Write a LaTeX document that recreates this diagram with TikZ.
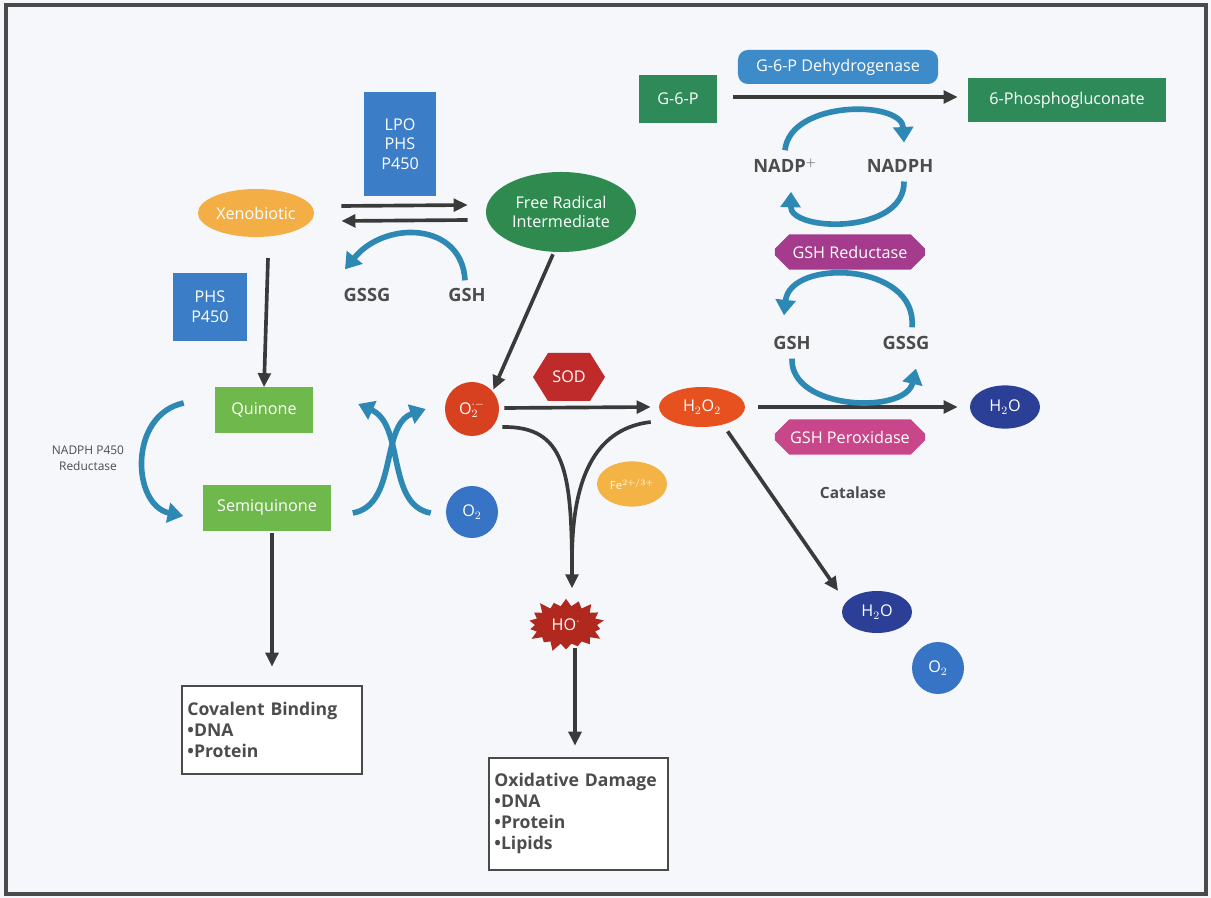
\documentclass[tikz,border=0pt]{standalone}
\usepackage{fontspec}
\setmainfont{Open Sans}
\usetikzlibrary{arrows.meta,positioning,calc,shapes.geometric,shapes.symbols,shapes.misc}
\definecolor{pagebg}{HTML}{F5F7FB}
\definecolor{framegray}{HTML}{4A4A4A}
\definecolor{labgray}{HTML}{4C4C4C}
\definecolor{arrowdark}{HTML}{3A3A3A}
\definecolor{tealarr}{HTML}{2E88B4}
\definecolor{enzblue}{HTML}{3B7DC6}
\definecolor{dehydblue}{HTML}{3D8BC9}
\definecolor{xenoorange}{HTML}{F3AF45}
\definecolor{radgreen}{HTML}{2F8A4F}
\definecolor{quingreen}{HTML}{6FB84B}
\definecolor{gsixgreen}{HTML}{2F8A5A}
\definecolor{supred}{HTML}{D8411F}
\definecolor{sodred}{HTML}{BF2A2A}
\definecolor{peroxred}{HTML}{E6511F}
\definecolor{feyellow}{HTML}{F4B445}
\definecolor{hored}{HTML}{B0281E}
\definecolor{oxblue}{HTML}{3774C6}
\definecolor{waternavy}{HTML}{2A3F95}
\definecolor{redpurple}{HTML}{A43B8C}
\definecolor{peroxpink}{HTML}{C7478A}

\begin{document}
\begin{tikzpicture}[x=0.025cm, y=-0.025cm,
  box/.style={text=white, align=center, font=\fontsize{11.5}{14}\selectfont, inner sep=2pt},
  blob/.style={box, ellipse, inner sep=1pt},
  cut/.style={box, chamfered rectangle, chamfered rectangle xsep=5pt, chamfered rectangle ysep=5pt},
  lbl/.style={text=labgray, font=\fontsize{13}{15}\selectfont\bfseries},
  res/.style={draw=framegray, line width=1.1pt, fill=white, align=left, text=labgray,
    font=\fontsize{12.5}{16}\selectfont\bfseries, inner sep=4pt, anchor=north west},
  dk/.style={draw=arrowdark, line width=2.6pt, -{Triangle[length=10pt,width=9pt]}},
  tl/.style={draw=tealarr, line width=4pt, -{Triangle[length=11pt,width=14pt]}}]
  % page and frame
  \fill[pagebg] (0,0) rectangle (1211,898);
  \draw[framegray, line width=2.4pt] (6,5) rectangle (1206,894);

  % xenobiotic activation
  \node[box, fill=enzblue, minimum width=1.8cm, minimum height=2.575cm] (lpo) at (400,144) {LPO\\PHS\\P450};
  \node[blob, fill=xenoorange, minimum width=2.8cm, minimum height=1.2cm] (xeno) at (256,213) {Xenobiotic};
  \node[blob, fill=radgreen, minimum width=3.75cm, minimum height=2cm] (frad) at (561,212) {Free Radical\\Intermediate};
  \node[lbl] (gssgA) at (367,295) {GSSG};
  \node[lbl] (gshA) at (467,295) {GSH};
  \node[box, fill=enzblue, minimum width=1.825cm, minimum height=1.675cm] (phs) at (210,307) {PHS\\P450};
  \draw[dk] ($(xeno.east)+(27,-7)$) -- ($(frad.west)+(-18,-7)$);
  \draw[dk] ($(frad.west)+(-18,8)$) -- ($(xeno.east)+(27,8)$);
  \draw[tl] ($(gshA.north)+(-2,-3)$) .. controls (462,222) and (385,220) .. ($(gssgA.north)+(-22,-14)$);

  % quinone redox cycling
  \node[box, fill=quingreen, minimum width=2.45cm, minimum height=1.125cm] (quin) at (264,410) {Quinone};
  \node[box, fill=quingreen, minimum width=3.175cm, minimum height=1.125cm] (semi) at (267,508) {Semiquinone};
  \node[text=labgray, align=center, font=\fontsize{8.5}{11}\selectfont] (nred) at (88,458) {NADPH P450\\Reductase};
  \draw[dk] (268,258) -- (quin.north);
  \draw[tl] ($(quin.west)+(-31,-7)$) .. controls (128,415) and (132,505) .. ($(semi.west)+(-20,8)$);
  \draw[dk] ($(semi.south)+(5,2)$) -- ($(semi.south)+(5,136)$);
  \node[res, text width=4.22cm, minimum height=2.2cm] (cov) at (181,685) {\mbox{Covalent Binding}\\[-1pt]\textbullet DNA\\[-1pt]\textbullet Protein};

  % superoxide branch
  \node[blob, circle, fill=supred, minimum size=1.35cm] (sup) at (472,409) {O$_2^{\cdot-}$};
  \node[blob, circle, fill=oxblue, minimum size=1.3cm] (otwo) at (472,512) {O$_2$};
  \draw[dk] (frad.south) ++(-8,2) -- ($(sup.north east)+(2,0)$);
  \draw[tl] ($(semi.east)+(22,5)$) .. controls (398,505) and (380,425) .. ($(sup.west)+(-19,0)$);
  \draw[tl] ($(otwo.west)+(-15,1)$) .. controls (386,505) and (405,425) .. ($(quin.east)+(45,-6)$);
  \fill[sodred] (533,377) -- (548,353) -- (590,353) -- (605,377) -- (590,401) -- (548,401) -- cycle;
  \node[box] (sod) at (569,377) {SOD};
  \node[blob, fill=peroxred, minimum width=2.15cm, minimum height=1cm] (hperox) at (702,407) {H$_2$O$_2$};
  \draw[dk] (sup.east) ++(5,-1) -- ($(hperox.west)+(-8,0)$);
  \node[blob, fill=feyellow, minimum width=1.75cm, minimum height=1.13cm, font=\fontsize{8}{9}\selectfont] (fe) at (632,484) {Fe$^{2+/3+}$};
  \node[box, starburst, starburst points=18, starburst point height=0.25cm, fill=hored,
        minimum width=2.05cm, minimum height=1.45cm] (ho) at (566,625) {HO$^{\cdot}$};
  \draw[dk] ($(sup.east)+(3,18)$) .. controls (565,426) and (572,470) .. ($(ho.north)+(6,-10)$);
  \draw[draw=arrowdark, line width=2.6pt] ($(hperox.west)+(-8,15)$) .. controls (600,428) and (572,470) .. (572,560);
  \draw[dk] ($(ho.south)+(9,-2)$) -- ($(ho.south)+(9,96)$);
  \node[res, text width=4.2cm, minimum height=2.8cm] (oxd) at (488,757) {\mbox{Oxidative Damage}\\[-1pt]\textbullet DNA\\[-1pt]\textbullet Protein\\[-1pt]\textbullet Lipids};

  % peroxide removal
  \node[blob, fill=waternavy, minimum width=1.75cm, minimum height=1.08cm] (wat) at (1005,407) {H$_2$O};
  \draw[dk] ($(hperox.east)+(13,0)$) -- ($(wat.west)+(-12,0)$);
  \node[cut, fill=peroxpink, minimum width=3.75cm, minimum height=0.875cm] (gpx) at (850,437) {GSH Peroxidase};
  \node[lbl] (gshB) at (792,343) {GSH};
  \node[lbl] (gssgB) at (906,343) {GSSG};
  \draw[tl] ($(gssgB.north)+(6,-4)$) .. controls (918,262) and (790,258) .. ($(gshB.north)+(-8,-16)$);
  \draw[tl] ($(gshB.south)+(0,4)$) .. controls (790,410) and (905,415) .. ($(gssgB.south)+(10,14)$);
  \node[cut, fill=redpurple, minimum width=3.75cm, minimum height=0.875cm] (gred) at (850,252) {GSH Reductase};
  \node[lbl] (nadp) at (785,166) {NADP$^{+}$};
  \node[lbl] (nadph) at (900,166) {NADPH};
  \draw[tl] ($(nadp.north)+(0,-4)$) .. controls (790,100) and (902,100) .. ($(nadph.north)+(4,-12)$);
  \draw[tl] ($(nadph.south)+(4,4)$) .. controls (905,235) and (790,232) .. ($(nadp.south)+(6,14)$);
  \node[box, fill=dehydblue, rounded corners=7pt, minimum width=5cm, minimum height=0.85cm] (gdh) at (838,67) {G-6-P Dehydrogenase};
  \node[box, fill=gsixgreen, minimum width=1.95cm, minimum height=1.2cm] (gsix) at (678,99) {G-6-P};
  \node[box, fill=gsixgreen, minimum width=4.95cm, minimum height=1.1cm] (pglu) at (1067,100) {6-Phosphogluconate};
  \draw[dk] ($(gsix.east)+(16,-2)$) -- ($(pglu.west)+(-10,-3)$);

  % catalase
  \node[blob, fill=waternavy, minimum width=1.75cm, minimum height=1.05cm] (watB) at (877,612) {H$_2$O};
  \node[blob, circle, fill=oxblue, minimum size=1.3cm] (otwoB) at (938,668) {O$_2$};
  \draw[dk] ($(hperox.south east)+(-5,10)$) -- ($(watB.north west)+(-14,-6)$);
  \node[text=labgray, font=\fontsize{11}{13}\selectfont\bfseries] (cat) at (853,493) {Catalase};
\end{tikzpicture}
\end{document}
